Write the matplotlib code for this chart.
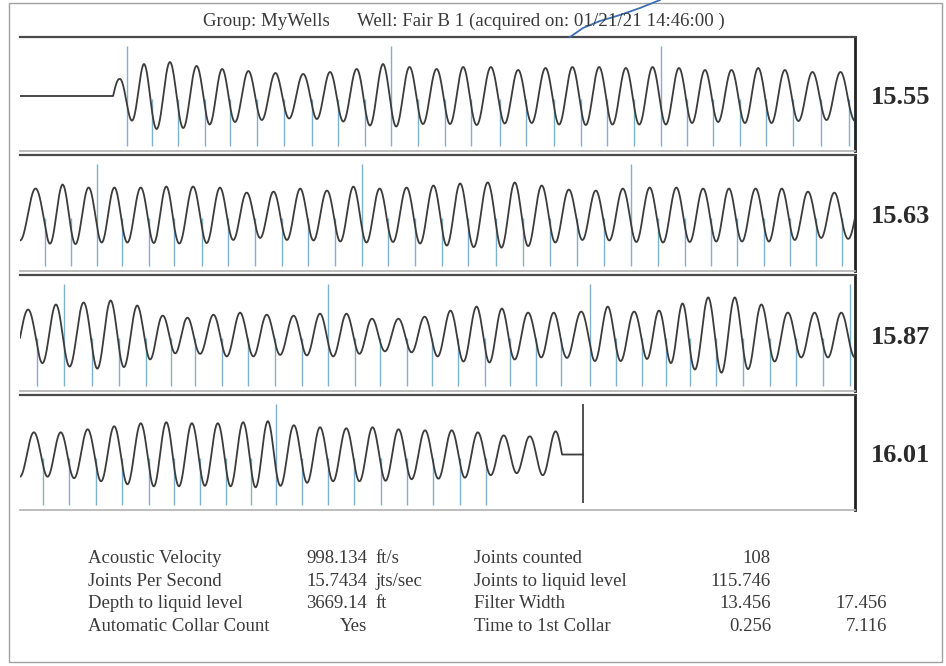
import numpy as np
import matplotlib
matplotlib.use("Agg")
import matplotlib.pyplot as plt
from matplotlib.patches import Rectangle
from matplotlib.lines import Line2D

# ---------------- data ----------------
# collar (joint) times in seconds, one per blue tick (109 collars, 108 joints)
collar_times = [
    0.256, 0.315, 0.379, 0.443, 0.503, 0.567, 0.632, 0.699, 0.762, 0.826,
    0.889, 0.953, 1.018, 1.081, 1.149, 1.213, 1.279, 1.343, 1.407, 1.471,
    1.535, 1.598, 1.660, 1.724, 1.788, 1.852, 1.919, 1.986,
    2.060, 2.121, 2.184, 2.245, 2.309, 2.369, 2.435, 2.499, 2.563, 2.627,
    2.691, 2.755, 2.818, 2.881, 2.946, 3.010, 3.074, 3.141, 3.205, 3.270,
    3.335, 3.399, 3.464, 3.528, 3.592, 3.656, 3.717, 3.782, 3.844, 3.907, 3.970,
    4.041, 4.106, 4.173, 4.237, 4.301, 4.361, 4.419, 4.483, 4.547, 4.611,
    4.675, 4.738, 4.802, 4.862, 4.926, 4.988, 5.050, 5.113, 5.173, 5.237,
    5.297, 5.365, 5.427, 5.491, 5.548, 5.604, 5.668, 5.732, 5.796, 5.859, 5.923, 5.987,
    6.054, 6.117, 6.182, 6.245, 6.309, 6.369, 6.431, 6.493, 6.553, 6.612,
    6.676, 6.738, 6.801, 6.864, 6.926, 6.990, 7.054, 7.116,
]
# peak amplitude of each echo cycle (cycle 0 = before first collar ... cycle 111)
peak_amplitudes = [
    17, 32, 34, 30, 27, 25, 23, 22, 24, 27, 32, 29, 27, 29, 29, 26, 28, 29, 29, 28,
    29, 28, 26, 26, 28, 26, 24, 24,
    26, 30, 27, 27, 27, 28, 28, 27, 22, 23, 26, 24, 28, 26, 27, 29, 31,
    32, 32, 29, 25, 24, 26, 27, 27, 26, 26, 26, 26, 23, 22,
    25, 30, 32, 34, 29, 19, 17, 20, 22, 20, 19, 21, 21, 16, 16, 18, 24,
    28, 26, 22, 22, 23, 28, 23, 24, 31, 37, 37, 30, 22, 22, 22,
    22, 22, 25, 28, 31, 32, 31, 31, 32, 33, 29, 27, 26, 27, 25, 24, 24, 22, 19, 18, 23,
]
liquid_level_time = 7.349
panel_seconds = 2.0
panel_labels = ["15.55", "15.63", "15.87", "16.01"]

group_text = "Group: MyWells"
well_text = "Well: Fair B 1 (acquired on: 01/21/21 14:46:00 )"

stats_labels_left = ["Acoustic Velocity", "Joints Per Second",
                     "Depth to liquid level", "Automatic Collar Count"]
stats_values_left = ["998.134", "15.7434", "3669.14", "Yes"]
stats_units_left = ["ft/s", "jts/sec", "ft", ""]
stats_labels_right = ["Joints counted", "Joints to liquid level",
                      "Filter Width", "Time to 1st Collar"]
stats_values_right = ["108", "115.746", "13.456", "0.256"]
stats_values_right2 = ["", "", "17.456", "7.116"]

# ---------------- build the echo trace from collars and amplitudes ----------------
T = np.array(collar_times)
amps = np.array(peak_amplitudes, dtype=float)
d0 = T[1] - T[0]
dn = T[-1] - T[-2]
t_ext = np.concatenate([[T[0] - d0], T, T[-1] + dn * np.arange(1, 4)])
k_ext = np.arange(len(t_ext), dtype=float)
peak_t = np.interp(np.arange(len(amps)) + 0.69, k_ext, t_ext)
t_start = np.interp(0.44, k_ext, t_ext)
t_end = np.interp(len(amps) - 1 + 0.94, k_ext, t_ext)

t = np.linspace(0, 4 * panel_seconds, 20001)
phi = np.interp(t, t_ext, k_ext)
env = np.interp(t, peak_t, amps)
sig = -env * np.cos(2 * np.pi * (phi - 0.19))
sig[(t < t_start) | (t > t_end)] = 0.0
sig[t > liquid_level_time] = np.nan

# ---------------- figure ----------------
W, H = 946, 666
fig = plt.figure(figsize=(W / 100, H / 100), dpi=100)
fig.patch.set_facecolor("white")


def fx(x):
    return x / W


def fy(y):
    return 1 - y / H


SERIF = ["Liberation Serif", "DejaVu Serif"]
TXT = "#3a3a3a"
WAVE = "#3c3c3c"
TICK = "#7fb0cc"

# outer frame
fig.add_artist(Rectangle((fx(9), fy(662)), fx(942) - fx(9), (662 - 3) / H,
                         transform=fig.transFigure, fill=False,
                         edgecolor="#a0a0a0", lw=1.0))

fig.text(fx(203), fy(21), group_text, ha="left", va="center",
         fontsize=13.6, family=SERIF, color=TXT)
fig.text(fx(357), fy(21), well_text, ha="left", va="center",
         fontsize=13.6, family=SERIF, color=TXT)

# hand-drawn pen stroke over the date
stroke_x = [570, 583, 600, 620, 640, 660]
stroke_y = [37, 28, 21, 15, 8, 0]
fig.add_artist(Line2D([fx(v) for v in stroke_x], [fy(v) for v in stroke_y],
                      transform=fig.transFigure, color="#3d6fb6", lw=1.3))

panel_px = [(37, 151), (155, 271), (275, 391), (395, 510)]
label_y = [98, 217, 337, 456]
YLIM = (-55, 59)

for i, (top, bot) in enumerate(panel_px):
    ax = fig.add_axes([fx(20), fy(bot), fx(855) - fx(20), (bot - top) / H])
    x0, x1 = i * panel_seconds, (i + 1) * panel_seconds
    ax.set_xlim(x0, x1)
    ax.set_ylim(*YLIM)
    ax.set_xticks([])
    ax.set_yticks([])
    ax.spines["left"].set_visible(False)
    ax.spines["top"].set_color("#4a4a4a")
    ax.spines["top"].set_linewidth(1.6)
    ax.spines["right"].set_color("#222222")
    ax.spines["right"].set_linewidth(2.0)
    ax.spines["bottom"].set_color("#b8b8b8")
    ax.spines["bottom"].set_linewidth(1.3)

    # collar ticks
    for j, ct in enumerate(collar_times):
        if x0 <= ct <= x1:
            top_y = 50 if j % 10 == 0 else -3
            ax.vlines(ct, -50, top_y, color=TICK, lw=1.0, zorder=2)

    m = (t >= x0) & (t <= x1)
    ax.plot(t[m], sig[m], color=WAVE, lw=1.3, zorder=3)

    if x0 <= liquid_level_time <= x1:
        ax.vlines(liquid_level_time, -48, 50, color="#333333", lw=1.2, zorder=3)

    fig.text(fx(900.5), fy(label_y[i]), panel_labels[i], ha="center", va="center",
             fontsize=19, fontweight="bold", family=SERIF, color="#2a2a2a")

# ---------------- statistics block ----------------
row_base = [563, 586, 608, 631]
for r in range(4):
    y = fy(row_base[r])
    fig.text(fx(88), y, stats_labels_left[r], ha="left", va="baseline",
             fontsize=13.5, family=SERIF, color=TXT)
    fig.text(fx(367), y, stats_values_left[r], ha="right", va="baseline",
             fontsize=13.5, family=SERIF, color=TXT)
    fig.text(fx(375), y, stats_units_left[r], ha="left", va="baseline",
             fontsize=13.5, family=SERIF, color=TXT)
    fig.text(fx(474), y, stats_labels_right[r], ha="left", va="baseline",
             fontsize=13.5, family=SERIF, color=TXT)
    fig.text(fx(771), y, stats_values_right[r], ha="right", va="baseline",
             fontsize=13.5, family=SERIF, color=TXT)
    fig.text(fx(887), y, stats_values_right2[r], ha="right", va="baseline",
             fontsize=13.5, family=SERIF, color=TXT)

fig.savefig("out.png", dpi=100, facecolor="white")
